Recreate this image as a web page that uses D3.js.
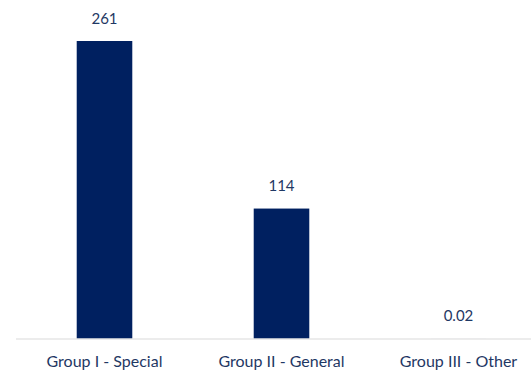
<!DOCTYPE html>
<html>
<head>
<meta charset="utf-8">
<script src="https://cdn.jsdelivr.net/npm/d3@7"></script>
<style>
  html, body { margin: 0; padding: 0; background: #ffffff; }
  svg { display: block; }
</style>
</head>
<body>
<svg id="chart" width="531" height="371"></svg>
<script>
const categories = ["Group I - Special", "Group II - General", "Group III - Other"];
const values = [261, 114, 0.02];
const valueLabels = ["261", "114", "0.02"];

const width = 531, height = 371;
const baseY = 338.5, topY = 41;
const svg = d3.select("#chart");

const x = d3.scaleBand()
  .domain(categories)
  .range([16, 547])
  .paddingInner(0.686)
  .paddingOuter(0.343);

const y = d3.scaleLinear()
  .domain([0, 261])
  .range([baseY, topY]);

const font = "Lato, 'Open Sans', sans-serif";
const textColor = "#1f3864";

svg.selectAll("rect.bar")
  .data(values)
  .join("rect")
  .attr("class", "bar")
  .attr("x", (d, i) => x(categories[i]))
  .attr("width", x.bandwidth())
  .attr("y", d => y(d))
  .attr("height", d => baseY - y(d))
  .attr("fill", "#002060");

// baseline axis
svg.append("line")
  .attr("x1", 16).attr("x2", width)
  .attr("y1", baseY + 0.5).attr("y2", baseY + 0.5)
  .attr("stroke", "#d9d9d9").attr("stroke-width", 1.2);

// value labels
svg.selectAll("text.val")
  .data(values)
  .join("text")
  .attr("class", "val")
  .attr("x", (d, i) => x(categories[i]) + x.bandwidth() / 2)
  .attr("y", d => y(d) - 17.5)
  .attr("text-anchor", "middle")
  .attr("font-family", font)
  .attr("font-size", 15)
  .attr("fill", textColor)
  .text((d, i) => valueLabels[i]);

// category labels
svg.selectAll("text.cat")
  .data(categories)
  .join("text")
  .attr("class", "cat")
  .attr("x", d => x(d) + x.bandwidth() / 2)
  .attr("y", 367)
  .attr("text-anchor", "middle")
  .attr("font-family", font)
  .attr("font-size", 16)
  .attr("fill", textColor)
  .text(d => d);
</script>
</body>
</html>
